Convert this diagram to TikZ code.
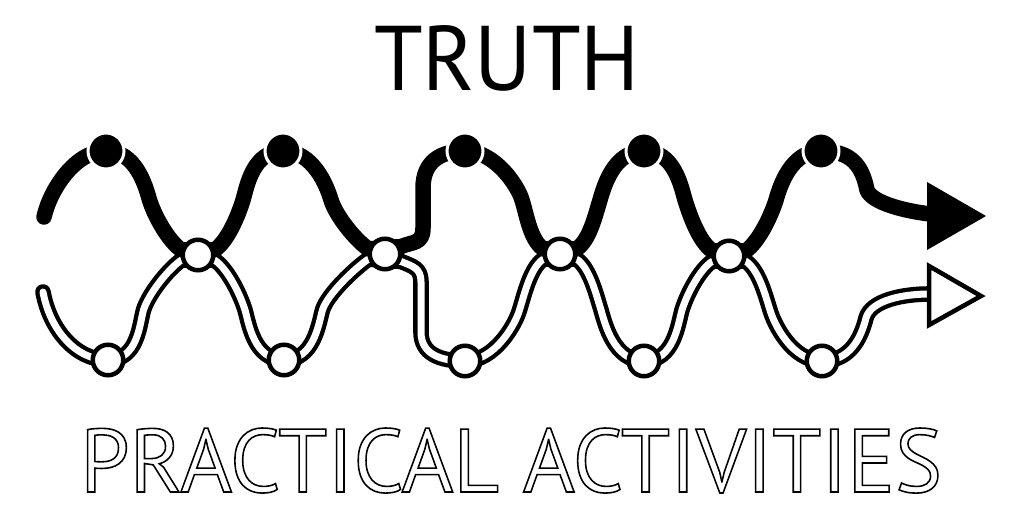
\documentclass[tikz,border=0pt]{standalone}
\usepackage{fontspec}
\setmainfont{PT Sans}
\usepackage{graphicx}
\usetikzlibrary{backgrounds}
\begin{document}
\begin{tikzpicture}[x=1pt,y=-1pt,
  blackline/.style={line width=15.5pt, line cap=round, line join=round},
  whiteline/.style={line width=4.3pt, double=white, double distance=7pt, line cap=round, line join=round},
  topdot/.style={circle, fill=black, draw=white, line width=3pt, minimum size=36pt, inner sep=0pt},
  ring/.style={circle, fill=white, draw=black, line width=4.5pt, minimum size=30.5pt, inner sep=0pt},
  headblack/.style={fill=black},
  headwhite/.style={draw=black, fill=white, line width=4.5pt, line join=miter}]
\useasboundingbox (0,0) rectangle (1022,512);
% dots (truth) and rings (crossings and practice)
\node[topdot] (D1) at (106,151) {};
\node[topdot] (D2) at (283,151) {};
\node[topdot] (D3) at (465,151) {};
\node[topdot] (D4) at (644,151) {};
\node[topdot] (D5) at (821,151) {};
\node[ring] (C1) at (198,255) {};
\node[ring] (C2) at (385,254) {};
\node[ring] (C3) at (560,254) {};
\node[ring] (C4) at (729,256) {};
\node[ring] (B1) at (108,360) {};
\node[ring] (B2) at (284,360) {};
\node[ring] (B3) at (465,361) {};
\node[ring] (B4) at (644,361) {};
\node[ring] (B5) at (822,361) {};
% waypoints of the truth line
\coordinate (S1) at (44,217);
\coordinate (M1) at (149.5,200);
\coordinate (M2) at (243,200);
\coordinate (M3) at (331,200);
\coordinate (V1) at (423,228);
\coordinate (V2) at (423,188);
\coordinate (M4) at (522,200);
\coordinate (M5) at (600,200);
\coordinate (M6) at (685,200);
\coordinate (M7) at (776,200);
\coordinate (E1) at (867,190);
\coordinate (E2) at (930,214);
% waypoints of the practice line
\coordinate (S2) at (43,292);
\coordinate (N1) at (143.5,310);
\coordinate (N2) at (245,310);
\coordinate (N3) at (322.5,310);
\coordinate (W1) at (421,282);
\coordinate (W2) at (421,332);
\coordinate (N4) at (519.5,310);
\coordinate (N5) at (601,310);
\coordinate (N6) at (682,310);
\coordinate (N7) at (770,310);
\coordinate (F1) at (866,318);
\coordinate (F2) at (929,294);
\begin{scope}[on background layer]
\fill[white] (0,0) rectangle (1022,512);
% practical activities line
\draw[whiteline] (S2) .. controls +(7,38) and +(-32,0) .. (B1.center)
  .. controls +(30,0) and +(-4,14) .. (N1) .. controls +(5,-16) and +(-13,9) .. (C1.197) -- (C1.343)
  .. controls +(13,9) and +(-5,-16) .. (N2) .. controls +(4,14) and +(-30,0) .. (B2.center)
  .. controls +(30,0) and +(-4,14) .. (N3) .. controls +(5,-16) and +(-13,9) .. (C2.197) -- (C2.335)
  .. controls +(12,5) and +(0,-14) .. (W1) -- (W2)
  .. controls +(0,22) and +(-25,0) .. (B3.center)
  .. controls +(30,0) and +(-4,14) .. (N4) .. controls +(5,-16) and +(-13,9) .. (C3.197) -- (C3.343)
  .. controls +(13,9) and +(-5,-16) .. (N5) .. controls +(4,14) and +(-30,0) .. (B4.center)
  .. controls +(30,0) and +(-4,14) .. (N6) .. controls +(5,-16) and +(-13,9) .. (C4.197) -- (C4.343)
  .. controls +(13,9) and +(-5,-16) .. (N7) .. controls +(4,14) and +(-30,0) .. (B5.center)
  .. controls +(28,0) and +(-5,20) .. (F1)
  .. controls +(5,-18) and +(-25,0) .. (F2);
% truth line
\draw[blackline] (S1) .. controls +(6,-27) and +(-31,0) .. (D1.center)
  .. controls +(30,0) and +(-4,-14) .. (M1) .. controls +(5,16) and +(-13,-9) .. (C1.163) -- (C1.17)
  .. controls +(13,-9) and +(-5,16) .. (M2) .. controls +(4,-14) and +(-30,0) .. (D2.center)
  .. controls +(30,0) and +(-4,-14) .. (M3) .. controls +(5,16) and +(-13,-9) .. (C2.163) -- (C2.25)
  .. controls +(12,-5) and +(0,16) .. (V1) -- (V2)
  .. controls +(0,-26) and +(-25,0) .. (D3.center)
  .. controls +(30,0) and +(-4,-14) .. (M4) .. controls +(5,16) and +(-13,-9) .. (C3.163) -- (C3.17)
  .. controls +(13,-9) and +(-5,16) .. (M5) .. controls +(4,-14) and +(-30,0) .. (D4.center)
  .. controls +(30,0) and +(-4,-14) .. (M6) .. controls +(5,16) and +(-13,-9) .. (C4.163) -- (C4.17)
  .. controls +(13,-9) and +(-5,16) .. (M7) .. controls +(4,-14) and +(-30,0) .. (D5.center)
  .. controls +(30,0) and +(-5,-25) .. (E1)
  .. controls +(5,13) and +(-25,-3) .. (E2);
% arrow heads
\fill[headblack] (927,182) -- (986,216) -- (927,250) -- cycle;
\draw[headwhite] (929,266) -- (981,296) -- (929,325) -- cycle;
\end{scope}
% texts
\node[anchor=base, inner sep=0pt] (truth) at (507,90)
  {\resizebox{266pt}{65pt}{\fontsize{93}{100}\selectfont TRUTH}};
\node[anchor=base, inner sep=0pt] (practical) at (511,492)
  {\resizebox{862pt}{64pt}{\fontsize{91}{100}\selectfont\special{pdf:literal direct 1 Tr 1.6 w}PRACTICAL ACTIVITIES\special{pdf:literal direct 0 Tr}}};
\end{tikzpicture}
\end{document}
